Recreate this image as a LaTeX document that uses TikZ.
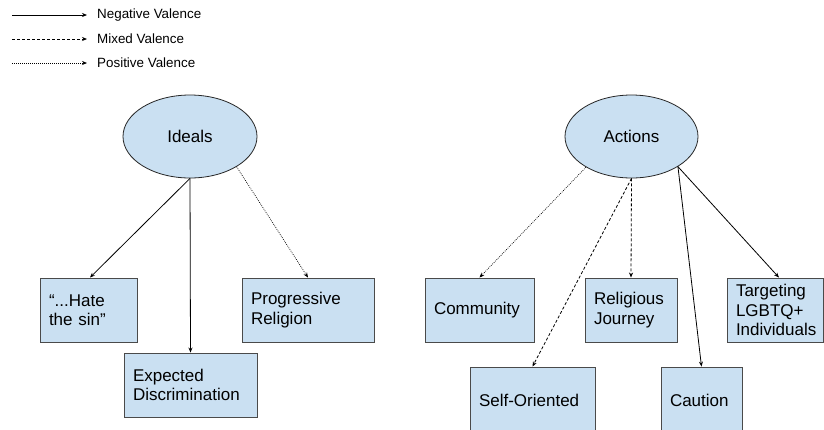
\documentclass[tikz,border=0pt]{standalone}
\usepackage{fontspec}
\setmainfont{Liberation Sans}
\usetikzlibrary{arrows.meta,shapes.geometric,calc}
\definecolor{boxfill}{HTML}{CAE0F2}
\definecolor{edgegray}{HTML}{4A4A4A}
\tikzset{
  conn/.style={line width=0.8pt, draw=black, -{Stealth[length=5pt,width=4pt]}},
  negline/.style={conn},
  mixedline/.style={conn, dash pattern=on 3pt off 2pt},
  posline/.style={conn, line width=0.7pt, dash pattern=on 0.8pt off 1.2pt},
  oval/.style={ellipse, draw=black!85, line width=0.8pt, fill=boxfill,
    minimum width=134pt, minimum height=83pt, inner sep=0pt,
    font=\fontsize{17pt}{19.5pt}\selectfont},
  catbox/.style={rectangle, draw=edgegray, line width=0.9pt, fill=boxfill,
    inner xsep=9pt, inner ysep=0pt, align=left,
    font=\fontsize{17pt}{19.5pt}\selectfont},
  legtext/.style={anchor=west, inner sep=0pt, font=\fontsize{13.4pt}{15pt}\selectfont}
}
\newcommand{\mybox}[6]{% name, cx, cy, w, h, text
  \node[catbox, text width=#4pt-18pt, minimum height=#5pt] (#1) at (#2,#3) {#6};}
\begin{document}
\begin{tikzpicture}[x=1pt,y=-1pt]
\useasboundingbox (0,0) rectangle (824,429);
\clip (0,0) rectangle (824,429);
\fill[white] (0,0) rectangle (824,429);
% legend
\coordinate (l1a) at (12,15); \coordinate (l1b) at (87,15);
\coordinate (l2a) at (12,39); \coordinate (l2b) at (87,39);
\coordinate (l3a) at (12,63); \coordinate (l3b) at (87,63);
\draw[negline] (l1a) -- (l1b);
\draw[mixedline] (l2a) -- (l2b);
\draw[posline] (l3a) -- (l3b);
\node[legtext] (t1) at (97,15) {Negative Valence};
\node[legtext] (t2) at (97,39) {Mixed Valence};
\node[legtext] (t3) at (97,63) {Positive Valence};
% ovals
\node[oval] (ideals) at (190,136.5) {Ideals};
\node[oval, minimum width=133pt] (actions) at (631.5,136.5) {Actions};
% boxes
\mybox{hate}{88.5}{310}{97}{64}{``...Hate\\the sin''}
\mybox{expected}{190.5}{385}{133}{64}{Expected\\Discrimination}
\mybox{progressive}{308}{310}{132}{64}{Progressive\\Religion}
\mybox{community}{479.5}{310}{109}{64}{Community}
\mybox{religious}{631}{310}{92}{64}{Religious\\Journey}
\mybox{targeting}{775}{310}{96}{64}{Targeting\\LGBTQ+\\Individuals}
\mybox{self}{532.5}{400}{125}{66}{Self-Oriented}
\mybox{caution}{701.5}{400}{81}{66}{Caution}
% connectors
\draw[negline] (ideals.south) -- ([xshift=1.5pt]hate.north);
\draw[negline] (ideals.south) -- (expected.north);
\draw[posline] (ideals.-33) -- (progressive.north);
\draw[posline] (actions.214) -- (community.north);
\draw[mixedline] (actions.south) -- (self.north);
\draw[mixedline] (actions.south) -- (religious.north);
\draw[negline] (actions.-33) -- (caution.north);
\draw[negline] (actions.-33) -- ([xshift=4pt]targeting.north);
\end{tikzpicture}
\end{document}
